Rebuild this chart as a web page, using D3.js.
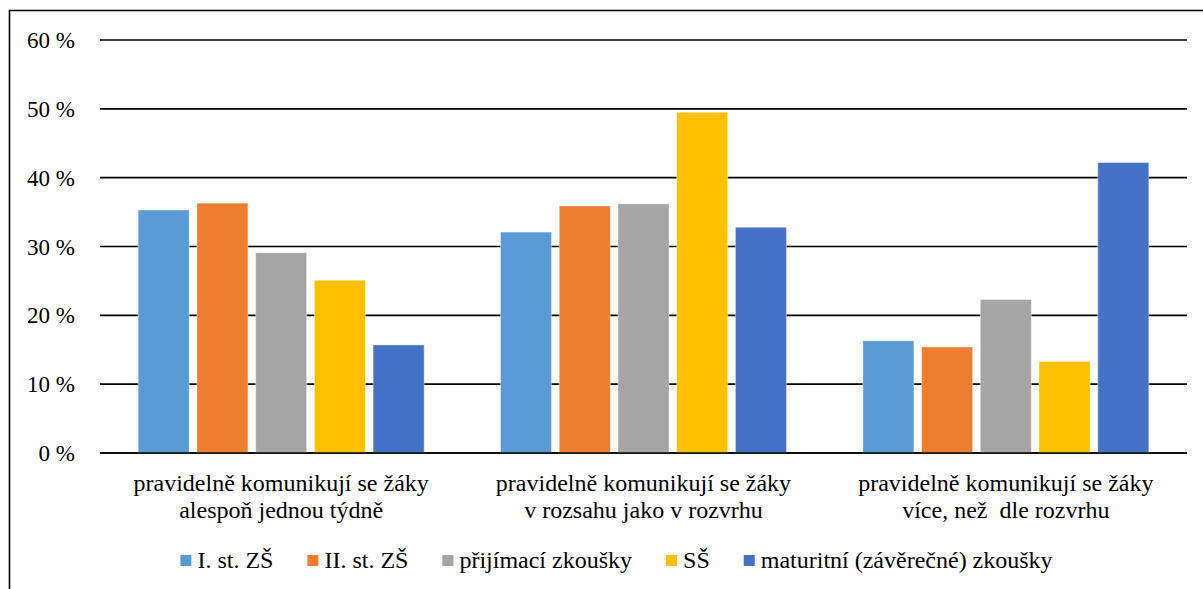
<!DOCTYPE html>
<html>
<head>
<meta charset="utf-8">
<script src="https://cdn.jsdelivr.net/npm/d3@7"></script>
<style>
  body { margin: 0; background: #fff; }
  text { font-family: "Liberation Serif", "Times New Roman", serif; fill: #000; }
</style>
</head>
<body>
<div id="chart"></div>
<script>
// categories (two lines each)
const categories = [
    ["pravidelně komunikují se žáky", "alespoň jednou týdně"],
    ["pravidelně komunikují se žáky", "v rozsahu jako v rozvrhu"],
    ["pravidelně komunikují se žáky", "více, než  dle rozvrhu"]
];
const seriesNames = ["I. st. ZŠ", "II. st. ZŠ", "přijímací zkoušky", "SŠ", "maturitní (závěrečné) zkoušky"];
const seriesColors = ["#5B9BD5", "#ED7D31", "#A5A5A5", "#FFC000", "#4472C4"];
// values in %, one array per series (order of categories)
const stZS1 = [35.3, 32.1, 16.3];
const stZS2 = [36.3, 35.9, 15.4];
const prijimaci = [29.1, 36.2, 22.3];
const SS = [25.1, 49.5, 13.3];
const maturitni = [15.7, 32.8, 42.2];
const yTicks = [0, 10, 20, 30, 40, 50, 60];

const seriesValues = [stZS1, stZS2, prijimaci, SS, maturitni];

const W = 1203, H = 589;
const plot = { left: 100, right: 1187, top: 40, bottom: 453 };

const svg = d3.select("#chart").append("svg")
    .attr("width", W)
    .attr("height", H);

// outer frame (only top and left visible)
svg.append("path")
    .attr("d", `M9.5,${H + 2} V10.5 H${W + 2}`)
    .attr("fill", "none")
    .attr("stroke", "#000")
    .attr("stroke-width", 1.6);

const x0 = d3.scaleBand().domain(d3.range(categories.length)).range([plot.left, plot.right]).padding(0);
const x1 = d3.scaleBand().domain(d3.range(seriesNames.length)).range([0, x0.bandwidth()])
    .paddingInner(0.131).paddingOuter(0.65);
const y = d3.scaleLinear().domain([0, 60]).range([plot.bottom, plot.top]);

// gridlines
svg.selectAll(".grid")
    .data(yTicks)
    .enter().append("line")
    .attr("class", "grid")
    .attr("x1", plot.left)
    .attr("x2", plot.right)
    .attr("y1", d => y(d))
    .attr("y2", d => y(d))
    .attr("stroke", "#000")
    .attr("stroke-width", 1.6);

svg.selectAll(".yLabel")
    .data(yTicks)
    .enter().append("text")
    .attr("class", "yLabel")
    .attr("x", 75)
    .attr("y", d => y(d))
    .attr("dy", "0.35em")
    .attr("text-anchor", "end")
    .attr("font-size", "23px")
    .text(d => d + " %");

// bars
const groups = svg.selectAll(".group")
    .data(categories)
    .enter().append("g")
    .attr("class", "group")
    .attr("transform", (d, i) => `translate(${x0(i)},0)`);

groups.selectAll("rect")
    .data((d, ci) => seriesValues.map((vals, si) => ({ si, v: vals[ci] })))
    .enter().append("rect")
    .attr("x", d => x1(d.si))
    .attr("y", d => y(d.v))
    .attr("width", x1.bandwidth())
    .attr("height", d => y(0) - y(d.v))
    .attr("fill", d => seriesColors[d.si])
    .attr("stroke", "#fff")
    .attr("stroke-opacity", 0.4)
    .attr("stroke-width", 1);

// redraw the baseline over the bars
svg.append("line")
    .attr("x1", plot.left)
    .attr("x2", plot.right)
    .attr("y1", y(0))
    .attr("y2", y(0))
    .attr("stroke", "#000")
    .attr("stroke-width", 1.6);

// category labels
const catLabels = svg.selectAll(".catLabel")
    .data(categories)
    .enter().append("text")
    .attr("class", "catLabel")
    .attr("text-anchor", "middle")
    .attr("font-size", "24px");

catLabels.selectAll("tspan")
    .data((d, i) => d.map(line => ({ line, i })))
    .enter().append("tspan")
    .attr("x", d => x0(d.i) + x0.bandwidth() / 2)
    .attr("y", (d, j) => 491 + j * 27)
    .attr("xml:space", "preserve")
    .text(d => d.line);

catLabels.style("white-space", "pre");

// legend
const legend = svg.append("g").attr("class", "legend");
let lx = 0;
seriesNames.forEach((name, i) => {
    const item = legend.append("g").attr("transform", `translate(${lx},0)`);
    item.append("rect")
        .attr("x", 0)
        .attr("y", -13)
        .attr("width", 11)
        .attr("height", 11)
        .attr("fill", seriesColors[i]);
    const t = item.append("text")
        .attr("x", 17)
        .attr("y", 0)
        .attr("font-size", "24px")
        .text(name);
    lx += 17 + t.node().getComputedTextLength() + 34;
});
const legendWidth = lx - 34;
legend.attr("transform", `translate(${616.5 - legendWidth / 2},568)`);
</script>
</body>
</html>
